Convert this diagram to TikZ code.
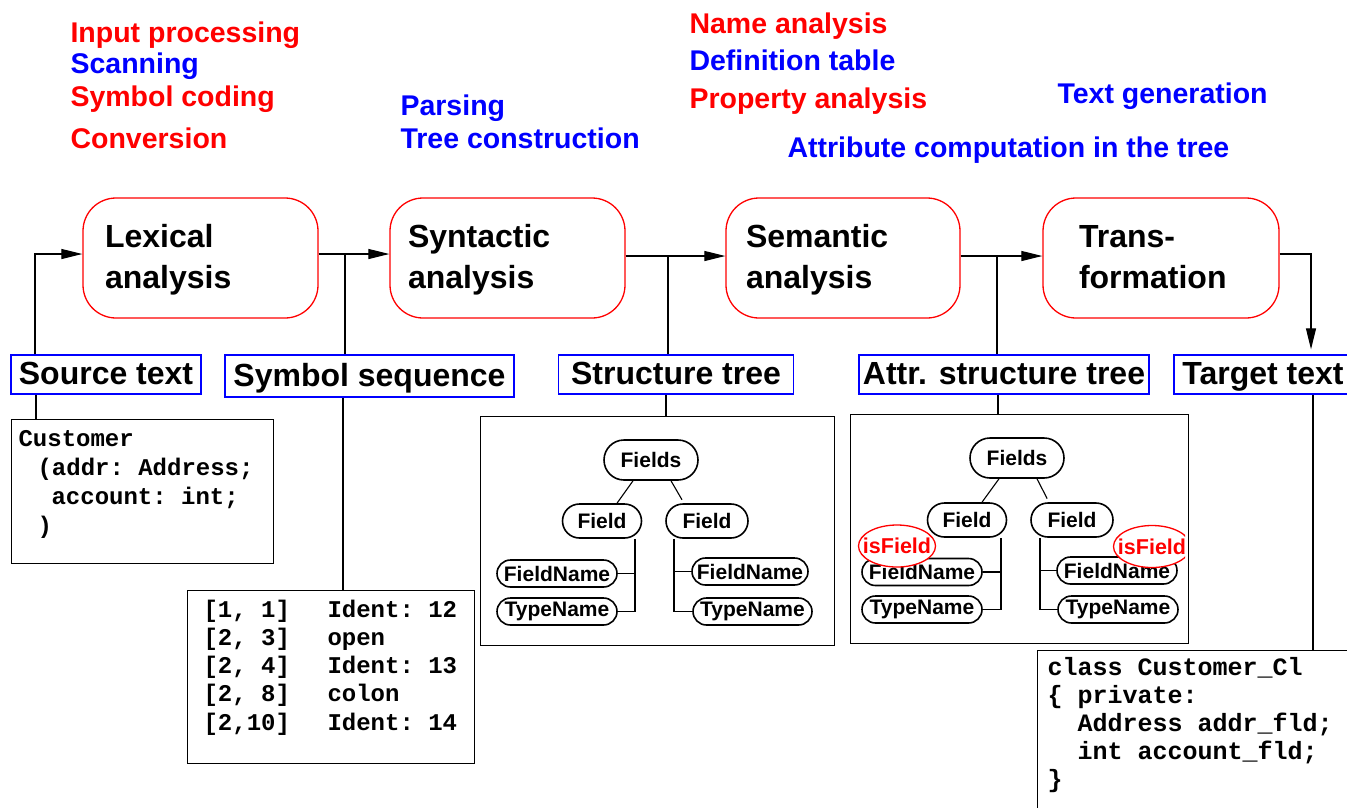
\documentclass[tikz,border=0pt]{standalone}
\usepackage{fontspec}
\setmainfont{Liberation Sans}
\setmonofont{Liberation Mono}
\usetikzlibrary{arrows.meta,shapes.misc,shapes.geometric,calc}
\newcommand{\toppad}{\rule{0pt}{27.5pt}}
\begin{document}
\begin{tikzpicture}[x=1pt,y=-1pt,line width=1.1pt,
  hdr/.style={anchor=base west,inner sep=0pt,font=\fontsize{28.5}{34}\selectfont\bfseries},
  proc/.style={draw=red,line width=1.3pt,rounded corners=33pt,minimum height=120pt,align=left,
    inner ysep=0pt,font=\fontsize{32}{41}\selectfont\bfseries},
  lbl/.style={draw=blue,line width=1.3pt,inner xsep=0pt,inner ysep=0pt,text height=23pt,text depth=3pt,
    font=\fontsize{32}{38}\selectfont\bfseries},
  frame/.style={draw=black,inner sep=0pt,anchor=north west},
  tnode/.style={rounded rectangle,draw,line width=1.6pt,inner sep=0pt,minimum height=27pt,
    font=\fontsize{21}{25}\selectfont\bfseries},
  isf/.style={ellipse,draw=red,line width=1.3pt,fill=white,text=red,inner xsep=-7pt,inner ysep=0pt,
    minimum width=77pt,minimum height=42pt,font=\fontsize{21.5}{25}\selectfont\bfseries},
  arr/.style={-{Triangle[length=21pt,width=10pt]}},
  code/.style={anchor=base west,inner sep=0pt}
]
\useasboundingbox (0,0) rectangle (1347,807);

% headings
\node[hdr,text=red]  (h1) at (70,42)  {Input processing};
\node[hdr,text=blue] (h2) at (70,73)  {Scanning};
\node[hdr,text=red]  (h3) at (70,106) {Symbol coding};
\node[hdr,text=red]  (h4) at (70,148) {Conversion};
\node[hdr,text=blue] (h5) at (400,115) {Parsing};
\node[hdr,text=blue] (h6) at (400,148) {Tree construction};
\node[hdr,text=red]  (h7) at (689,33)  {Name analysis};
\node[hdr,text=blue] (h8) at (689,70)  {Definition table};
\node[hdr,text=red]  (h9) at (689,108) {Property analysis};
\node[hdr,text=blue] (h10) at (1057,103) {Text generation};
\node[hdr,text=blue] (h11) at (787,157) {Attribute computation in the tree};

% process boxes
\node[proc,inner xsep=22pt,text width=191pt] (lex) at (200.5,258) {\toppad Lexical\\analysis};
\node[proc,inner xsep=18pt,text width=199pt] (syn) at (507.5,258) {\toppad Syntactic\\analysis};
\node[proc,inner xsep=20pt,text width=194pt] (sem) at (843,258) {\toppad Semantic\\analysis};
\node[proc,inner xsep=36pt,text width=164pt] (trans) at (1161,258) {\toppad Trans-\\formation\vphantom{y}};

% labels
\node[lbl,minimum width=190pt,minimum height=39pt] (src) at (106,374.5) {Source text};
\node[lbl,minimum width=289pt,minimum height=42pt] (sym) at (369.5,376) {Symbol sequence};
\node[lbl,minimum width=235pt,minimum height=39pt] (struct) at (676,374.5) {Structure tree};
\node[lbl,minimum width=290pt,minimum height=39pt] (attr) at (1004,374.5) {Attr. structure tree};
\node[lbl,minimum width=178pt,minimum height=39pt] (tgt) at (1263,374.5) {Target text};

% connectors between stages
\coordinate (j0) at (35,254);
\coordinate (j1) at (345,254);
\coordinate (j2) at (668,256);
\coordinate (j3) at (997,256);
\coordinate (j4) at (1311,254);
\draw[arr] (src.north -| j0) |- ([yshift=4pt]lex.west);
\draw[arr] ([yshift=4pt]lex.east) -- ([yshift=4pt]syn.west);
\draw (j1) -- (j1 |- sym.north);
\draw[arr] ([yshift=2pt]syn.east) -- ([yshift=2pt]sem.west);
\draw (j2) -- (j2 |- struct.north);
\draw[arr] ([yshift=2pt]sem.east) -- ([yshift=2pt]trans.west);
\draw (j3) -- (j3 |- attr.north);
\draw[arr,shorten >=5pt] ([yshift=4pt]trans.east) -| (j4 |- tgt.north);

% content frames
\node[frame,minimum width=262pt,minimum height=144pt] (code1) at (11,419) {};
\node[frame,minimum width=287pt,minimum height=173pt] (code2) at (187,590) {};
\node[frame,minimum width=354pt,minimum height=229pt] (tree1) at (480,416) {};
\node[frame,minimum width=338pt,minimum height=229pt] (tree2) at (850,414) {};
\node[frame,minimum width=330pt,minimum height=180pt] (code3) at (1037,650) {};

\coordinate (k0) at (36,0);
\coordinate (k1) at (343,0);
\coordinate (k2) at (666,0);
\coordinate (k3) at (998,0);
\coordinate (k4) at (1313,0);
\draw (src.south -| k0) -- (code1.north -| k0);
\draw (sym.south -| k1) -- (code2.north -| k1);
\draw (struct.south -| k2) -- (tree1.north -| k2);
\draw (attr.south -| k3) -- (tree2.north -| k3);
\draw (tgt.south -| k4) -- (code3.north -| k4);

% code texts
\node[code] (c1t) at (18,446) {\ttfamily\bfseries\fontsize{24}{29}\selectfont
\begin{tabular}[t]{@{}l@{}}Customer\\
\hspace*{19pt}(addr: Address;\\
\hspace*{33pt}account: int;\\
\hspace*{19pt})\end{tabular}};
\node[code] (c2t) at (203,617) {\ttfamily\bfseries\fontsize{24}{28.3}\selectfont
\begin{tabular}[t]{@{}l@{}}\makebox[124pt][l]{[1, 1]}Ident: 12\\
\makebox[124pt][l]{[2, 3]}open\\
\makebox[124pt][l]{[2, 4]}Ident: 13\\
\makebox[124pt][l]{[2, 8]}colon\\
\makebox[124pt][l]{[2,10]}Ident: 14\end{tabular}};
\node[code] (c3t) at (1047,675) {\ttfamily\bfseries\fontsize{25}{28.2}\selectfont
\begin{tabular}[t]{@{}l@{}}class Customer\_Cl\\
\{ private:\\
\hspace*{30pt}Address addr\_fld;\\
\hspace*{30pt}int account\_fld;\\
\}\end{tabular}};

% tree 1
\node[tnode,minimum width=94pt,minimum height=40pt] (t1f) at (651,460) {Fields};
\node[tnode,minimum width=79pt,minimum height=34pt] (t1l) at (602,521) {Field};
\node[tnode,minimum width=82pt,minimum height=34pt] (t1r) at (707,521) {Field};
\node[tnode,minimum width=120pt] (t1fl) at (557,573.5) {FieldName};
\node[tnode,minimum width=120pt] (t1tl) at (557,611.5) {TypeName};
\node[tnode,minimum width=116pt] (t1fr) at (750,571.5) {FieldName};
\node[tnode,minimum width=119pt] (t1tr) at (752.5,611.5) {TypeName};
\draw ([xshift=-18pt]t1f.south) -- ([xshift=15pt]t1l.north);
\draw[shorten >=4pt] ([xshift=20pt]t1f.south) -- ([xshift=-23pt]t1r.north);
\coordinate (v1l) at ([xshift=33pt]t1l.south);
\coordinate (v1r) at ([xshift=-33pt]t1r.south);
\draw (v1l) |- (t1tl.east);
\draw (t1fl.east) -- (t1fl.east -| v1l);
\draw (v1r) |- (t1tr.west);
\draw (t1fr.west) -- (t1fr.west -| v1r);

% tree 2
\node[tnode,minimum width=94pt,minimum height=40pt] (t2f) at (1017,458) {Fields};
\node[tnode,minimum width=79pt,minimum height=34pt] (t2l) at (967,520) {Field};
\node[tnode,minimum width=82pt,minimum height=34pt] (t2r) at (1072,520) {Field};
\node[tnode,minimum width=120pt] (t2fl) at (922,572) {FieldName};
\node[tnode,minimum width=120pt] (t2tl) at (922,609.5) {TypeName};
\node[tnode,minimum width=120pt] (t2fr) at (1117,570.5) {FieldName};
\node[tnode,minimum width=120pt] (t2tr) at (1118,609.5) {TypeName};
\draw ([xshift=-18pt]t2f.south) -- ([xshift=15pt]t2l.north);
\draw[shorten >=4pt] ([xshift=20pt]t2f.south) -- ([xshift=-23pt]t2r.north);
\coordinate (v2l) at ([xshift=34pt]t2l.south);
\coordinate (v2r) at ([xshift=-32pt]t2r.south);
\draw (v2l) |- (t2tl.east);
\draw (t2fl.east) -- (t2fl.east -| v2l);
\draw (v2r) |- (t2tr.west);
\draw (t2fr.west) -- (t2fr.west -| v2r);

\node[isf] (isfl) at (897,546) {isField};
\begin{scope}
\clip (850,400) rectangle (1185,660);
\node[isf] (isfr) at (1152,546.5) {isField};
\end{scope}
\end{tikzpicture}
\end{document}
